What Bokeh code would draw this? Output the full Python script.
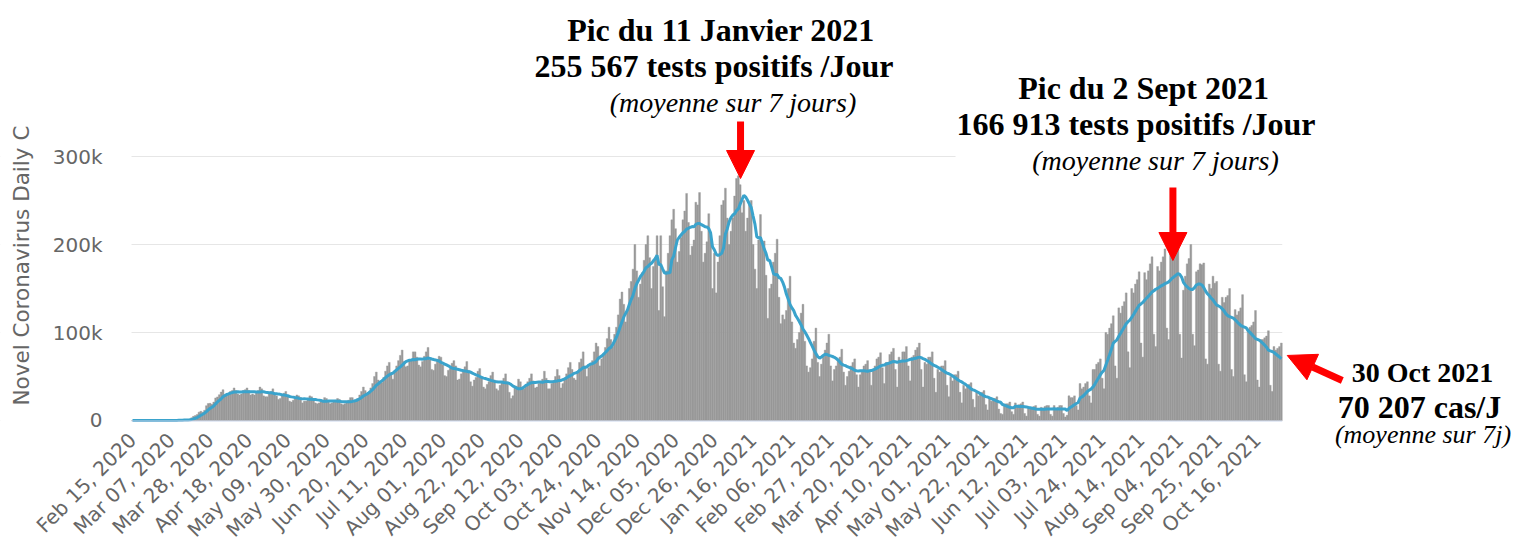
import numpy as np
import pandas as pd
from bokeh.plotting import figure
from bokeh.models import (Range1d, FixedTicker, DatetimeTickFormatter, Label,
                          Arrow, NormalHead, BoxAnnotation)
from bokeh.embed import file_html
from bokeh.resources import INLINE

start_date = "2020-02-15"

# Daily new cases (thousands), Feb 15 2020 -> Dec 31 2020, one row per week (Sat..Fri)
cases_2020_k = [
    0, 0, 0, 0, 0, 0, 0,
    0, 0, 0, 0, 0, 0, 0,
    0.01, 0.01, 0.02, 0.02, 0.03, 0.06, 0.1,
    0.1, 0.12, 0.2, 0.27, 0.45, 0.45, 0.8,
    0.8, 0.8, 1.2, 1.6, 3.0, 4.7, 5.6,
    6.7, 9.5, 10.5, 9.4, 11.7, 16.8, 19.3,
    19.5, 18.4, 20.9, 25.7, 26.8, 29.3, 32.3,
    35, 28, 30, 30, 33, 34, 37,
    34, 30, 29, 30, 34, 35, 37,
    34, 29, 30, 29, 33, 34, 38,
    36, 28, 27, 27, 31, 33, 36,
    31, 28, 24, 25, 28, 31, 33,
    28, 22, 21, 23, 25, 29, 28,
    26, 20, 22, 22, 24, 28, 27,
    24, 20, 19, 20, 21, 23, 26,
    25, 21, 19, 20, 21, 23, 25,
    24, 19, 18, 19, 21, 23, 26,
    26, 22, 22, 25, 29, 33, 38,
    34, 30, 32, 37, 42, 50, 55,
    46, 42, 43, 49, 56, 62, 66,
    54, 47, 56, 62, 68, 74, 80,
    67, 61, 62, 68, 69, 78, 78,
    72, 63, 61, 67, 73, 78, 83,
    69, 58, 57, 64, 69, 73, 72,
    63, 51, 50, 57, 59, 65, 68,
    62, 46, 47, 53, 56, 61, 67,
    57, 44, 39, 46, 49, 56, 59,
    50, 38, 36, 41, 44, 51, 55,
    46, 36, 34, 40, 44, 48, 53,
    44, 32, 25, 28, 37, 39, 47,
    44, 36, 36, 40, 44, 48, 53,
    45, 37, 38, 42, 43, 47, 56,
    48, 36, 36, 42, 45, 50, 58,
    51, 37, 42, 48, 53, 60, 66,
    58, 48, 46, 54, 66, 70, 78,
    62, 50, 60, 63, 68, 78, 88,
    84, 62, 70, 76, 83, 93, 106,
    92, 84, 98, 106, 120, 138, 146,
    132, 112, 126, 150, 158, 172, 200,
    170, 140, 155, 168, 182, 200, 210,
    185, 150, 175, 185, 210, 125, 210,
    152, 118, 170, 190, 210, 228, 240,
    218, 180, 192, 208, 228, 238, 258,
    225, 188, 198, 205, 248, 245, 259,
    215, 180, 190, 203, 235, 210, 150,
    190, 145, 180, 210, 245, 250,
]

# Daily new cases (thousands), Jan 1 2021 -> Oct 29 2021
cases_2021_k = [
    264,
    230, 200, 215, 230, 255, 275, 278,
    268, 236, 250, 215, 230, 245, 250,
    200, 172, 150, 205, 234, 200, 204,
    165, 116, 150, 155, 180, 190, 206,
    140, 110, 120, 115, 125, 150, 164,
    112, 88, 82, 92, 100, 122, 132,
    90, 62, 55, 60, 70, 90, 105,
    66, 50, 64, 72, 80, 88, 98,
    62, 45, 58, 62, 68, 72, 81,
    55, 40, 50, 56, 62, 66, 70,
    52, 38, 52, 56, 62, 64, 68,
    55, 40, 58, 62, 70, 72, 77,
    60, 42, 66, 66, 75, 78, 82,
    58, 38, 72, 68, 78, 78, 84,
    62, 45, 72, 74, 80, 83, 88,
    58, 38, 66, 64, 72, 72, 78,
    48, 32, 58, 55, 62, 62, 68,
    40, 27, 50, 45, 52, 52, 56,
    32, 20, 40, 36, 40, 41, 43,
    24, 15, 32, 28, 31, 32, 34,
    18, 12, 25, 22, 25, 25, 27,
    13, 8, 7, 18, 19, 19, 21,
    10, 7, 20, 17, 18, 19, 21,
    8, 5, 16, 14, 15, 16, 17,
    7, 5, 15, 14, 16, 17, 17,
    7, 5, 17, 13, 15, 17, 17,
    8, 4, 6, 28, 26, 26, 28,
    17, 12, 42, 36, 38, 42, 44,
    28, 20, 58, 58, 64, 66, 70,
    48, 36, 100, 98, 105, 110, 119,
    62, 48, 128, 122, 130, 135, 145,
    78, 60, 150, 145, 155, 160, 169,
    88, 72, 168, 160, 170, 178, 186,
    98, 84, 175, 170, 180, 186, 195,
    105, 92, 190, 185, 192, 198, 207,
    98, 71, 148, 164, 178, 184, 200,
    98, 85, 169, 171, 178, 177, 179,
    70, 64, 155, 150, 164, 156, 158,
    64, 56, 140, 134, 140, 142, 150,
    58, 50, 126, 120, 124, 128, 143,
    52, 44, 104, 106, 108, 112, 125,
    46, 38, 92, 92, 94, 96, 102,
    40, 33, 84, 80, 82, 84, 88,
]

x_tick_labels = [
    "Feb 15, 2020", "Mar 07, 2020", "Mar 28, 2020", "Apr 18, 2020",
    "May 09, 2020", "May 30, 2020", "Jun 20, 2020", "Jul 11, 2020",
    "Aug 01, 2020", "Aug 22, 2020", "Sep 12, 2020", "Oct 03, 2020",
    "Oct 24, 2020", "Nov 14, 2020", "Dec 05, 2020", "Dec 26, 2020",
    "Jan 16, 2021", "Feb 06, 2021", "Feb 27, 2021", "Mar 20, 2021",
    "Apr 10, 2021", "May 01, 2021", "May 22, 2021", "Jun 12, 2021",
    "Jul 03, 2021", "Jul 24, 2021", "Aug 14, 2021", "Sep 04, 2021",
    "Sep 25, 2021", "Oct 16, 2021",
]
y_tick_values = [0, 100000, 200000, 300000]
y_tick_labels = ["0", "100k", "200k", "300k"]

# ---------------------------------------------------------------------------
cases = np.array(cases_2020_k + cases_2021_k, dtype=float) * 1000.0
dates = pd.date_range(start_date, periods=len(cases), freq="D")
avg7 = pd.Series(cases).rolling(7, min_periods=1).mean().values

DAY_MS = 86400000.0
t0 = dates[0].value / 1e6
last = len(cases) - 1


def xd(day):
    """day offset from the first date -> datetime ms"""
    return t0 + day * DAY_MS


X0 = -0.54           # left edge of the plotting area (days)
X1 = last + 0.5      # right edge of the data

# frame covers the whole canvas: x 0..1514 px, y 0..546 px
# (day 0 at 132 px, 1.847 px per day ; y=0 at 420 px, 0.88 px per 1000)
p = figure(width=1514, height=546, x_axis_type="datetime",
           x_range=Range1d(xd(-71.47), xd(748.24)),
           y_range=Range1d(-143182, 477273),
           output_backend="svg", toolbar_location=None,
           min_border_left=0, min_border_right=0,
           min_border_top=0, min_border_bottom=0)
p.outline_line_color = None
p.background_fill_color = "white"
p.border_fill_color = "white"

p.vbar(x=dates, top=cases, bottom=0, width=DAY_MS, fill_color="#999999",
       line_color="#999999", line_width=0.4)
p.line(dates, avg7, line_color="#3aa3cc", line_width=3)
# x axis line, only under the data
p.segment(x0=[xd(X0)], y0=[-600], x1=[xd(X1)], y1=[-600],
          line_color="#ccd6eb", line_width=1)

# axes
tick_ms = [pd.to_datetime(s, format="%b %d, %Y").value / 1e6
           for s in x_tick_labels]
p.xaxis.fixed_location = 0
p.xaxis.ticker = FixedTicker(ticks=tick_ms)
fmt = "%b %d, %Y"
p.xaxis.formatter = DatetimeTickFormatter(
    milliseconds=fmt, seconds=fmt, minsec=fmt, minutes=fmt, hourmin=fmt,
    hours=fmt, days=fmt, months=fmt, years=fmt, strip_leading_zeros=False)
p.xaxis.major_label_orientation = np.pi / 4
p.xaxis.major_label_text_font = "DejaVu Sans"
p.xaxis.major_label_text_font_size = "20px"
p.xaxis.major_label_text_color = "#666666"
p.xaxis.axis_line_color = None
p.xaxis.major_tick_line_color = None
p.xaxis.minor_tick_line_color = None
p.xaxis.major_tick_out = 0
p.xaxis.major_label_standoff = 16

p.yaxis.fixed_location = xd(X0)
p.yaxis.ticker = FixedTicker(ticks=y_tick_values)
p.yaxis.major_label_overrides = {v: l for v, l in zip(y_tick_values, y_tick_labels)}
p.yaxis.axis_line_color = None
p.yaxis.major_tick_line_color = None
p.yaxis.minor_tick_line_color = None
p.yaxis.major_tick_out = 0
p.yaxis.major_label_standoff = 29
p.yaxis.major_label_text_font = "DejaVu Sans"
p.yaxis.major_label_text_font_size = "20px"
p.yaxis.major_label_text_color = "#666666"

p.xgrid.grid_line_color = None
p.ygrid.grid_line_color = "#e6e6e6"
p.ygrid.grid_line_width = 1

# grid only spans the data: blank the areas left and right of it
p.add_layout(BoxAnnotation(right=xd(X0), fill_color="white", fill_alpha=1.0,
                           line_color=None, level="underlay"))
p.add_layout(BoxAnnotation(left=xd(X1), fill_color="white", fill_alpha=1.0,
                           line_color=None, level="underlay"))
# white box of the second annotation, hiding part of the 300k grid line
p.add_layout(BoxAnnotation(left=xd(445.6), bottom=290000, top=312000,
                           fill_color="white", fill_alpha=1.0,
                           line_color=None, level="underlay"))

# y axis title (cut off in the original)
p.add_layout(Label(x=xd(-60.3), y=17000, text="Novel Coronavirus Daily C",
                   angle=np.pi / 2, text_align="left", text_baseline="middle",
                   text_font="DejaVu Sans", text_font_size="21.5px",
                   text_color="#666666"))

SERIF = "Liberation Serif"


def lab(day, y, text, size, style):
    p.add_layout(Label(x=xd(day), y=y, text=text, text_align="center",
                       text_baseline="middle", text_font=SERIF,
                       text_font_size=size, text_font_style=style,
                       text_color="black"))


def arrow(d0, y0, d1, y1):
    p.add_layout(Arrow(x_start=xd(d0), y_start=y0, x_end=xd(d1), y_end=y1,
                       line_color="#ff0000", line_width=7,
                       end=NormalHead(size=28, fill_color="#ff0000",
                                      line_color="#ff0000", line_width=1)))


# peak 1
lab(318.6, 443200, "Pic du 11 Janvier 2021", "32px", "bold")
lab(314.8, 403400, "255 567 tests positifs /Jour", "32px", "bold")
lab(325.1, 360800, "(moyenne sur 7 jours)", "28px", "italic")
arrow(329.2, 339800, 329.2, 275000)

# peak 2
lab(547.4, 378400, "Pic du 2 Sept 2021", "32px", "bold")
lab(543.3, 336900, "166 913 tests positifs /Jour", "32px", "bold")
lab(553.9, 295500, "(moyenne sur 7 jours)", "28px", "italic")
arrow(563.3, 264800, 563.3, 181800)

# last value
lab(698.4, 55100, "30 Oct 2021", "28px", "bold")
lab(696.8, 14800, "70 207 cas/J", "32px", "bold")
lab(698.7, -15900, "(moyenne sur 7j)", "26px", "italic")
arrow(655.0, 45500, 625.2, 73900)

open("out.html", "w").write(file_html(p, INLINE))
